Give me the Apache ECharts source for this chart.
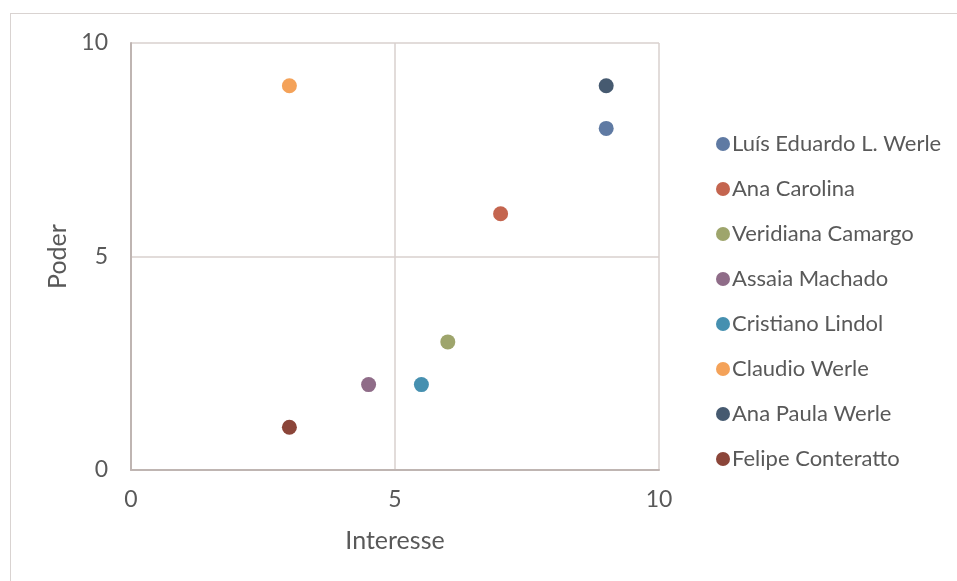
<!DOCTYPE html>
<html><head><meta charset="utf-8">
<script src="https://cdn.jsdelivr.net/npm/echarts@6/dist/echarts.min.js"></script>
<style>
html,body{margin:0;padding:0;background:#fff;}
#frame{position:absolute;left:10px;top:13px;width:1000px;height:700px;border:1.5px solid #d9d3d1;box-sizing:border-box;}
#c{position:absolute;left:0;top:0;width:957px;height:581px;}
</style></head>
<body><div id="frame"></div><div id="c"></div>
<script>
const names = ["Luís Eduardo L. Werle","Ana Carolina","Veridiana Camargo","Assaia Machado","Cristiano Lindol","Claudio Werle","Ana Paula Werle","Felipe Conteratto"];
const interesse = [9, 7, 6, 4.5, 5.5, 3, 9, 3];
const poder = [8, 6, 3, 2, 2, 9, 9, 1];
const colors = ["#5f7aa3","#c4654f","#9ea56c","#8f6c88","#4690b0","#f4a259","#465a70","#8b4539"];
const xTicks = [0, 5, 10];
const yTicks = [0, 5, 10];

const chart = echarts.init(document.getElementById('c'));
const font = 'Lato, "Open Sans", sans-serif';
chart.setOption({
  animation:false,
  grid:{left:131,top:43,width:528,height:427,containLabel:false},
  xAxis:{type:'value',min:xTicks[0],max:xTicks[xTicks.length-1],interval:5,
    name:'Interesse',nameLocation:'middle',nameGap:58,
    nameTextStyle:{fontFamily:font,fontSize:25,color:'#595959'},
    axisLine:{show:true,onZero:false,lineStyle:{color:'#bfb5b2',width:2}},
    axisTick:{show:false},
    axisLabel:{fontFamily:font,fontSize:23,color:'#595959',margin:18},
    splitLine:{show:true,lineStyle:{color:'#d9d0ce',width:1.5}}},
  yAxis:{type:'value',min:yTicks[0],max:yTicks[yTicks.length-1],interval:5,
    name:'Poder',nameLocation:'middle',nameGap:53,
    nameTextStyle:{fontFamily:font,fontSize:25,color:'#595959'},
    axisLine:{show:true,onZero:false,lineStyle:{color:'#bfb5b2',width:2}},
    axisTick:{show:false},
    axisLabel:{fontFamily:font,fontSize:23,color:'#595959',margin:23},
    splitLine:{show:true,lineStyle:{color:'#d9d0ce',width:1.5}}},
  legend:{orient:'vertical',left:711,top:126,itemWidth:14,itemHeight:14,itemGap:19,
    icon:'circle',
    textStyle:{fontFamily:font,fontSize:22,color:'#595959',lineHeight:26,padding:[0,0,0,-3]},
    data:names},
  series: names.map((n,i)=>({
    name:n,type:'scatter',symbolSize:15,
    itemStyle:{color:colors[i],opacity:1},
    data:[[interesse[i],poder[i]]]
  }))
});
</script></body></html>
